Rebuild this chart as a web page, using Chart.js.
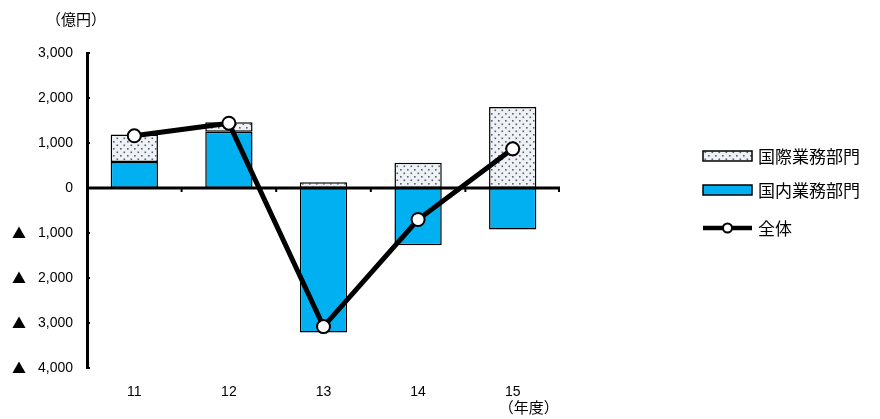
<!DOCTYPE html>
<html>
<head>
<meta charset="utf-8">
<script src="https://cdn.jsdelivr.net/npm/chart.js@4/dist/chart.umd.min.js"></script>
<style>
  html, body { margin: 0; padding: 0; background: #fff; }
  #wrap { width: 880px; height: 419px; position: relative; }
</style>
</head>
<body>
<div id="wrap"><canvas id="c" width="880" height="419"></canvas></div>
<script>
// 年度別 業務純益（億円）
const categories = ['11', '12', '13', '14', '15'];
const domestic = [580, 1250, -3210, -1270, -920];       // 国内業務部門
const international = [610, 210, 130, 560, 1800];      // 国際業務部門
const total = [1160, 1440, -3080, -700, 870];          // 全体
const yTickValues = [3000, 2000, 1000, 0, -1000, -2000, -3000, -4000];
const seriesNames = ['国際業務部門', '国内業務部門', '全体'];

const CJK = '"Noto Sans CJK JP", "Noto Sans", sans-serif';
const NUM = '"Liberation Sans", Arial, sans-serif';

// dotted fill for the international segment
function dotPattern() {
  const t = document.createElement('canvas');
  t.width = 7; t.height = 7;
  const g = t.getContext('2d');
  g.fillStyle = '#eef2f7';
  g.fillRect(0, 0, 7, 7);
  g.fillStyle = '#5a6068';
  g.fillRect(1, 1, 1.6, 1.6);
  g.fillRect(4.5, 4.5, 1.6, 1.6);
  return document.getElementById('c').getContext('2d').createPattern(t, 'repeat');
}
const dots = dotPattern();

// negative values carry a ▲ mark, drawn separately in the CJK face
function fmt(v) {
  return Math.abs(v).toLocaleString('en-US');
}

// zero axis with category ticks, y-axis inner ticks, ▲ marks, unit captions and legend
const decor = {
  id: 'decor',
  beforeDatasetDraw(chart, args) {
    if (args.meta.type !== 'line') return;
    const { ctx, chartArea: a, scales: { x, y } } = chart;
    const y0 = y.getPixelForValue(0);
    ctx.save();
    ctx.strokeStyle = '#000';
    ctx.lineWidth = 3;
    ctx.beginPath();
    ctx.moveTo(a.left - 1, y0);
    ctx.lineTo(a.right, y0);
    ctx.stroke();
    ctx.lineWidth = 2;
    for (let i = 0; i < categories.length; i++) {
      const px = i < categories.length - 1
        ? (x.getPixelForValue(i) + x.getPixelForValue(i + 1)) / 2
        : a.right - 1;
      ctx.beginPath();
      ctx.moveTo(px, y0);
      ctx.lineTo(px, y0 + 4);
      ctx.stroke();
    }
    ctx.restore();
  },
  afterDraw(chart) {
    const { ctx, chartArea: a, scales: { x, y } } = chart;
    ctx.save();
    // inner ticks on the value axis
    ctx.strokeStyle = '#000';
    ctx.lineWidth = 2;
    yTickValues.forEach(v => {
      const py = y.getPixelForValue(v);
      ctx.beginPath();
      ctx.moveTo(a.left, py);
      ctx.lineTo(a.left + 3, py);
      ctx.stroke();
    });
    // ▲ marks for negative values
    ctx.fillStyle = '#000';
    ctx.font = '14px ' + CJK;
    ctx.textAlign = 'center';
    ctx.textBaseline = 'middle';
    yTickValues.filter(v => v < 0).forEach(v => {
      ctx.fillText('▲', 19, y.getPixelForValue(v));
    });
    // unit captions
    ctx.font = '15px ' + CJK;
    ctx.fillText('（億円）', 76, 19);
    ctx.fillText('（年度）', x.getPixelForValue(4) + 16, 407);

    // legend
    const lx = 703, bw = 49;
    const rows = [156, 190, 228];
    ctx.font = '17px ' + CJK;
    ctx.textAlign = 'left';
    ctx.fillStyle = dots;
    ctx.fillRect(lx, rows[0] - 5, bw, 10);
    ctx.lineWidth = 1.5;
    ctx.strokeRect(lx, rows[0] - 5, bw, 10);
    ctx.fillStyle = '#00b0f0';
    ctx.fillRect(lx, rows[1] - 5, bw, 10);
    ctx.strokeRect(lx, rows[1] - 5, bw, 10);
    ctx.lineWidth = 4.5;
    ctx.beginPath();
    ctx.moveTo(lx, rows[2]);
    ctx.lineTo(lx + bw, rows[2]);
    ctx.stroke();
    ctx.beginPath();
    ctx.arc(lx + bw / 2, rows[2], 4.5, 0, Math.PI * 2);
    ctx.fillStyle = '#fff';
    ctx.fill();
    ctx.lineWidth = 2;
    ctx.stroke();
    ctx.fillStyle = '#000';
    seriesNames.forEach((n, i) => ctx.fillText(n, lx + bw + 6, rows[i] + 1));
    ctx.restore();
  }
};

new Chart(document.getElementById('c'), {
  data: {
    labels: categories,
    datasets: [
      {
        type: 'line',
        label: seriesNames[2],
        data: total,
        stack: 'total',
        order: 0,
        borderColor: '#000',
        borderWidth: 5,
        pointRadius: 6.5,
        pointBackgroundColor: '#fff',
        pointBorderColor: '#000',
        pointBorderWidth: 2,
        tension: 0
      },
      {
        type: 'bar',
        label: seriesNames[1],
        data: domestic,
        stack: 'dept',
        order: 1,
        backgroundColor: '#00b0f0',
        borderColor: '#000',
        borderWidth: 1.5,
        borderSkipped: false,
        barPercentage: 0.5,
        categoryPercentage: 1
      },
      {
        type: 'bar',
        label: seriesNames[0],
        data: international,
        stack: 'dept',
        order: 1,
        backgroundColor: dots,
        borderColor: '#000',
        borderWidth: 1.5,
        borderSkipped: false,
        barPercentage: 0.5,
        categoryPercentage: 1
      }
    ]
  },
  options: {
    responsive: false,
    animation: false,
    events: [],
    layout: { padding: { left: 0, right: 320, top: 53, bottom: 0 } },
    plugins: { legend: { display: false }, tooltip: { enabled: false } },
    scales: {
      x: {
        stacked: true,
        offset: true,
        grid: { display: false },
        border: { display: false },
        ticks: { color: '#000', font: { family: NUM, size: 14 }, padding: 8 },
        afterFit(s) { s.height = 51; }
      },
      y: {
        stacked: true,
        min: -4000,
        max: 3000,
        afterBuildTicks(s) { s.ticks = yTickValues.map(v => ({ value: v })); },
        grid: { display: false, drawTicks: false },
        border: { display: true, color: '#000', width: 3 },
        ticks: {
          color: '#000',
          font: { family: NUM, size: 14 },
          padding: 14,
          callback: v => fmt(v)
        },
        afterFit(s) { s.width = 87; }
      }
    }
  },
  plugins: [decor]
});
</script>
</body>
</html>
